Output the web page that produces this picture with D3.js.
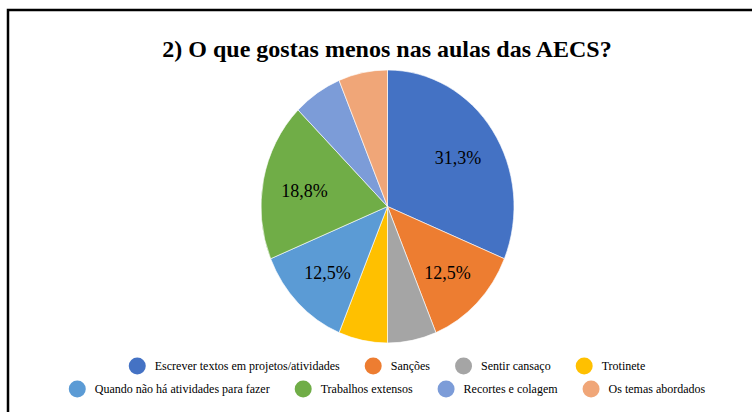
<!DOCTYPE html>
<html>
<head>
<meta charset="utf-8">
<script src="https://cdn.jsdelivr.net/npm/d3@7"></script>
<style>
  html, body { margin: 0; padding: 0; background: #fff; }
  svg { display: block; }
</style>
</head>
<body>
<div id="chart"></div>
<script>
const titleText = "2) O que gostas menos nas aulas das AECS?";
const categories = [
  "Escrever textos em projetos/atividades",
  "Sanções",
  "Sentir cansaço",
  "Trotinete",
  "Quando não há atividades para fazer",
  "Trabalhos extensos",
  "Recortes e colagem",
  "Os temas abordados"
];
const values = [5, 2, 1, 1, 2, 3, 1, 1];
const colors = ["#4472C4", "#ED7D31", "#A5A5A5", "#FFC000", "#5B9BD5", "#70AD47", "#7C9CD8", "#F0A678"];
const legendRows = [[0, 1, 2, 3], [4, 5, 6, 7]];

const width = 752, height = 412;
const fontFamily = "Liberation Serif, serif";

const svg = d3.select("#chart").append("svg")
  .attr("width", width)
  .attr("height", height);

svg.append("rect")
  .attr("x", 8).attr("y", 10)
  .attr("width", width + 10).attr("height", height + 10)
  .attr("fill", "#fff")
  .attr("stroke", "#000")
  .attr("stroke-width", 2.5);

svg.append("text")
  .attr("x", 387).attr("y", 57)
  .attr("text-anchor", "middle")
  .style("font-family", fontFamily)
  .style("font-weight", "bold")
  .style("font-size", "24px")
  .attr("fill", "#000")
  .text(titleText);

// pie is a little taller than wide in the picture
const rx = 126.5, ry = 136.5;
const cx = 387.5, cy = 206.5;
const total = d3.sum(values);

const pie = d3.pie().sort(null).value(d => d);
const arcs = pie(values);
const arc = d3.arc().innerRadius(0).outerRadius(rx);
const labelArc = d3.arc().innerRadius(rx * 0.67).outerRadius(rx * 0.67);

const g = svg.append("g")
  .attr("transform", `translate(${cx},${cy})`);

g.append("g")
  .attr("transform", `scale(1,${ry / rx})`)
  .selectAll("path")
  .data(arcs)
  .join("path")
  .attr("d", arc)
  .attr("fill", (d, i) => colors[i])
  .attr("stroke", "#fff")
  .attr("stroke-width", 0.6);

const fmt = v => (Math.round(v / total * 1000) / 10).toFixed(1).replace(".", ",") + "%";

g.selectAll("text.lbl")
  .data(arcs.filter(d => d.value / total > 0.1))
  .join("text")
  .attr("class", "lbl")
  .attr("x", d => labelArc.centroid(d)[0])
  .attr("y", d => labelArc.centroid(d)[1] * ry / rx + 2)
  .attr("text-anchor", "middle")
  .attr("dominant-baseline", "central")
  .style("font-family", fontFamily)
  .style("font-size", "18px")
  .attr("fill", "#000")
  .text(d => fmt(d.value));

// legend, each row centred under the pie
const legendY = [366, 389];
const dotR = 8.5, dotGap = 9, itemGap = 25;
const legend = svg.append("g");

legendRows.forEach((row, ri) => {
  const rowG = legend.append("g");
  let x = 0;
  row.forEach(i => {
    const item = rowG.append("g").attr("transform", `translate(${x},0)`);
    item.append("circle")
      .attr("cx", dotR).attr("cy", 0).attr("r", dotR)
      .attr("fill", colors[i]);
    const t = item.append("text")
      .attr("x", dotR * 2 + dotGap)
      .attr("y", 0)
      .attr("dominant-baseline", "central")
      .style("font-family", fontFamily)
      .style("font-size", "12px")
      .attr("fill", "#000")
      .text(categories[i]);
    x += dotR * 2 + dotGap + t.node().getComputedTextLength() + itemGap;
  });
  const rowW = x - itemGap;
  rowG.attr("transform", `translate(${387 - rowW / 2},${legendY[ri]})`);
});
</script>
</body>
</html>
